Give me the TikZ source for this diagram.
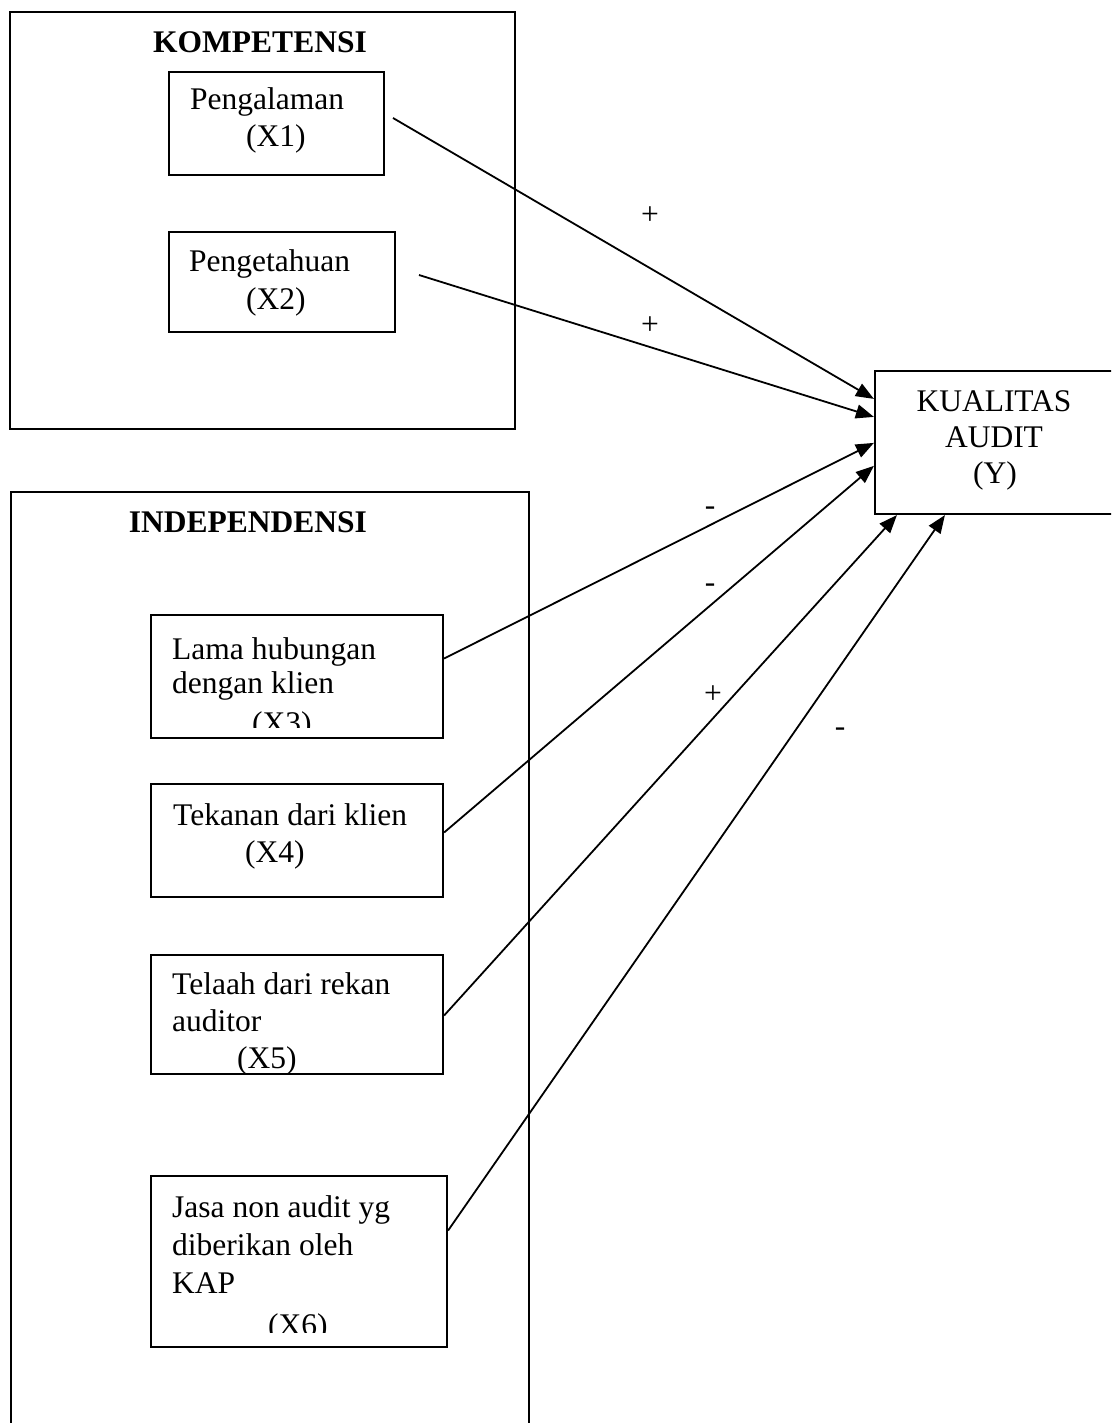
\documentclass[tikz,border=0pt]{standalone}
\usepackage{fontspec}
\setmainfont{Liberation Serif}
\usetikzlibrary{arrows.meta,fit,calc}
\begin{document}
\begin{tikzpicture}[x=1pt,y=-1pt,
  box/.style={draw, line width=2.2pt, inner sep=0pt, rectangle},
  txt/.style={anchor=base west, inner sep=0pt, font=\fontsize{31.5}{37}\selectfont},
  ctxt/.style={anchor=base, inner sep=0pt, font=\fontsize{31.5}{37}\selectfont},
  ttl/.style={anchor=base, inner sep=0pt, font=\fontsize{31.5}{37}\selectfont\bfseries},
  sgn/.style={inner sep=0pt, font=\fontsize{31.5}{37}\selectfont},
  conn/.style={line width=1.8pt, -{Triangle[length=18pt,width=14pt]}}]
\useasboundingbox (0,0) rectangle (1111,1423);
\fill[white] (0,0) rectangle (1111,1423);
\clip (0,0) rectangle (1111,1423);

% group boxes
\node[box, fit={(10,12) (515,429)}] (komp) {};
\node[ttl] (kompt) at (260,53) {KOMPETENSI};
\node[box, fit={(11,492) (529,1460)}] (indep) {};
\node[ttl] (indept) at (248,532) {INDEPENDENSI};

% variable boxes
\node[box, fit={(169,72) (384,175)}] (x1) {};
\node[txt] (x1a) at (190,110) {Pengalaman};
\node[txt] (x1b) at (246,147) {(X1)};

\node[box, fit={(169,232) (395,332)}] (x2) {};
\node[txt] (x2a) at (189,272) {Pengetahuan};
\node[txt] (x2b) at (246,309) {(X2)};

\node[box, fit={(151,615) (443,738)}] (x3) {};
\node[txt] (x3a) at (172,659) {Lama hubungan};
\node[txt] (x3b) at (172,693) {dengan klien};
\begin{scope}
  \clip (151,600) rectangle (443,727);
  \node[txt] (x3c) at (252,733) {(X3)};
\end{scope}

\node[box, fit={(151,784) (443,897)}] (x4) {};
\node[txt] (x4a) at (173,825) {Tekanan dari klien};
\node[txt] (x4b) at (245,862) {(X4)};

\node[box, fit={(151,955) (443,1074)}] (x5) {};
\node[txt] (x5a) at (172,994) {Telaah dari rekan};
\node[txt] (x5b) at (172,1031) {auditor};
\node[txt] (x5c) at (237,1068) {(X5)};

\node[box, fit={(151,1176) (447,1347)}] (x6) {};
\node[txt] (x6a) at (172,1217) {Jasa non audit yg};
\node[txt] (x6b) at (172,1255) {diberikan oleh};
\node[txt] (x6c) at (172,1293) {KAP};
\begin{scope}
  \clip (151,1160) rectangle (447,1332);
  \node[txt] (x6d) at (268,1335) {(X6)};
\end{scope}

% dependent
\node[box, fit={(875,371) (1140,514)}] (y) {};
\node[ctxt] (ya) at (994,411) {KUALITAS};
\node[ctxt] (yb) at (994,447) {AUDIT};
\node[ctxt] (yc) at (995,483) {(Y)};

% connector start points
\coordinate (s1) at (393,118);
\coordinate (s2) at (419,275);
\coordinate (s3) at ($(x3.east)+(0,-18)$);
\coordinate (s4) at ($(x4.east)+(0,-8)$);
\coordinate (s5) at ($(x5.east)+(0,1)$);
\coordinate (s6) at ($(x6.east)+(0,-31)$);

\draw[conn] (s1) -- ([yshift=-29pt]y.north west);
\draw[conn] (s2) -- ([yshift=-47pt]y.north west);
\draw[conn] (s3) -- ([yshift=-73pt]y.north west);
\draw[conn] (s4) -- ([yshift=-96pt]y.north west);
\draw[conn] (s5) -- ([xshift=23pt]y.south west);
\draw[conn] (s6) -- ([xshift=71pt]y.south west);

% signs
\node[sgn] (p1) at (650,216) {+};
\node[sgn] (p2) at (650,326) {+};
\node[sgn] (m3) at (710,511) {-};
\node[sgn] (m4) at (710,588) {-};
\node[sgn] (p5) at (713,695) {+};
\node[sgn] (m6) at (840,732) {-};
\end{tikzpicture}
\end{document}
